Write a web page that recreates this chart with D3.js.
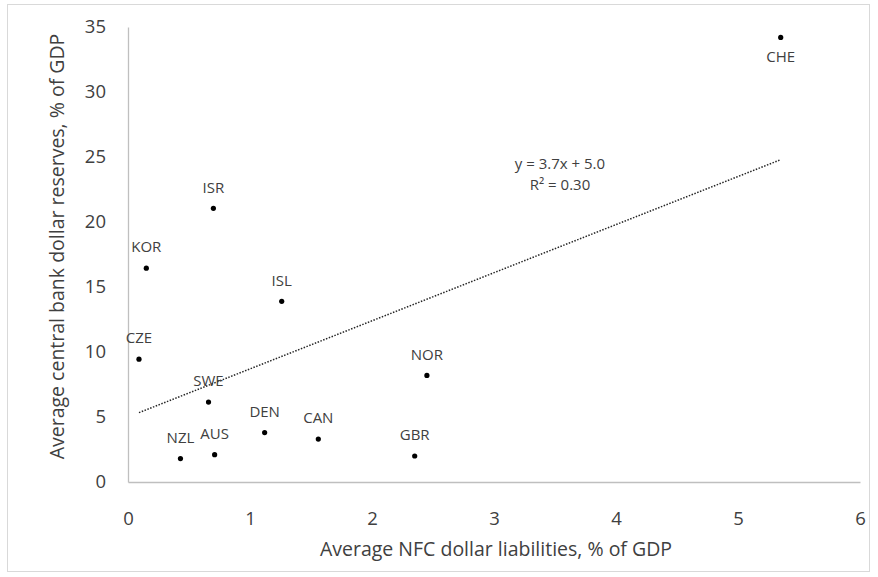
<!DOCTYPE html>
<html>
<head>
<meta charset="utf-8">
<script src="https://cdn.jsdelivr.net/npm/d3@7"></script>
<style>
  html, body { margin: 0; padding: 0; background: #fff; }
  svg { display: block; font-family: "Open Sans", "Noto Sans", sans-serif; }
</style>
</head>
<body>
<svg id="chart" width="878" height="577"></svg>
<script>
// Country codes and their values (% of GDP)
const countries = ["CHE", "ISR", "KOR", "ISL", "CZE", "NOR", "SWE", "DEN", "CAN", "AUS", "NZL", "GBR"];
const nfcLiabilities = [5.35, 0.70, 0.15, 1.26, 0.09, 2.45, 0.66, 1.12, 1.56, 0.71, 0.43, 2.35];
const cbReserves = [34.2, 21.05, 16.45, 13.9, 9.45, 8.2, 6.15, 3.8, 3.3, 2.1, 1.8, 2.0];
const labelBelow = ["CHE"];

// Linear trend: y = 3.7x + 5.0, R² = 0.30
const trendSlope = 3.7, trendIntercept = 5.0;
const trendText = ["y = 3.7x + 5.0", "R² = 0.30"];

const xTicks = [0, 1, 2, 3, 4, 5, 6];
const yTicks = [0, 5, 10, 15, 20, 25, 30, 35];
const xTitle = "Average NFC dollar liabilities, % of GDP";
const yTitle = "Average central bank dollar reserves, % of GDP";

const svg = d3.select("#chart");

// chart frame
svg.append("rect")
  .attr("x", 7.5).attr("y", 4.5).attr("width", 862).attr("height", 567)
  .attr("fill", "#fff").attr("stroke", "#d9d9d9").attr("stroke-width", 1);

const plotLeft = 128, plotRight = 860, plotTop = 27, plotBottom = 482;
const x = d3.scaleLinear().domain([0, 6]).range([plotLeft, plotRight]);
const y = d3.scaleLinear().domain([0, 35]).range([plotBottom, plotTop]);

const textColor = "#404040";

// axes
const xAxis = svg.append("g").attr("transform", `translate(0,${plotBottom})`)
  .call(d3.axisBottom(x).tickValues(xTicks).tickSize(0).tickPadding(30).tickFormat(d3.format("d")));
const yAxis = svg.append("g").attr("transform", `translate(${plotLeft},0)`)
  .call(d3.axisLeft(y).tickValues(yTicks).tickSize(0).tickPadding(22).tickFormat(d3.format("d")));
[xAxis, yAxis].forEach(g => {
  g.select(".domain").attr("stroke", "#bfbfbf").attr("stroke-width", 1.3);
  g.selectAll("text").attr("fill", textColor).attr("font-size", 18.5)
    .attr("font-family", "'Open Sans', 'Noto Sans', sans-serif");
});
xAxis.selectAll("text").attr("dy", "0.32em").attr("y", 37);

// axis titles
svg.append("text")
  .attr("x", (plotLeft + plotRight) / 2 + 2).attr("y", 556)
  .attr("text-anchor", "middle").attr("fill", textColor).attr("font-size", 19.5)
  .text(xTitle);
svg.append("text")
  .attr("transform", `translate(64,${(plotTop + plotBottom) / 2 - 8}) rotate(-90)`)
  .attr("text-anchor", "middle").attr("fill", textColor).attr("font-size", 19.5)
  .text(yTitle);

// trendline across the range of the data
const xMin = d3.min(nfcLiabilities), xMax = d3.max(nfcLiabilities);
svg.append("line")
  .attr("x1", x(xMin)).attr("y1", y(trendSlope * xMin + trendIntercept))
  .attr("x2", x(xMax)).attr("y2", y(trendSlope * xMax + trendIntercept))
  .attr("stroke", "#262626").attr("stroke-width", 1.5)
  .attr("stroke-dasharray", "1.5,1.5");

// trend equation, one text per line
svg.append("g").selectAll("text").data(trendText).join("text")
  .attr("x", 560).attr("y", (d, i) => 164 + i * 21)
  .attr("dy", "0.35em")
  .attr("text-anchor", "middle").attr("fill", textColor).attr("font-size", 15)
  .text(d => d);

// points and labels
const data = countries.map((c, i) => ({ c, xv: nfcLiabilities[i], yv: cbReserves[i] }));
svg.append("g").selectAll("circle").data(data).join("circle")
  .attr("cx", d => x(d.xv)).attr("cy", d => y(d.yv)).attr("r", 2.6)
  .attr("fill", "#000");

svg.append("g").selectAll("text").data(data).join("text")
  .attr("x", d => x(d.xv))
  .attr("y", d => y(d.yv) + (labelBelow.includes(d.c) ? 19 : -21))
  .attr("dy", "0.35em")
  .attr("text-anchor", "middle").attr("fill", textColor).attr("font-size", 15)
  .text(d => d.c);
</script>
</body>
</html>
